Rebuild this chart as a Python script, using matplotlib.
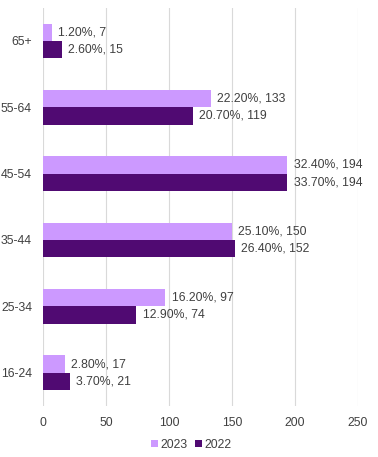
import matplotlib.pyplot as plt
import numpy as np

plt.rcParams['font.family'] = ['Liberation Sans', 'DejaVu Sans']

groups = ['65+', '55-64', '45-54', '35-44', '25-34', '16-24']
counts_2023 = [7, 133, 194, 150, 97, 17]
counts_2022 = [15, 119, 194, 152, 74, 21]
pct_2023 = ['1.20%', '22.20%', '32.40%', '25.10%', '16.20%', '2.80%']
pct_2022 = ['2.60%', '20.70%', '33.70%', '26.40%', '12.90%', '3.70%']

c2023 = '#CC99FF'
c2022 = '#500A72'
txt = '#404040'

fig = plt.figure(figsize=(3.78, 4.57), dpi=100)
ax = fig.add_axes([0.114, 0.112, 0.833, 0.871])

y = np.arange(len(groups))
h = 0.26
b1 = ax.barh(y - h / 2, counts_2023, height=h, color=c2023, label='2023', zorder=2)
b2 = ax.barh(y + h / 2, counts_2022, height=h, color=c2022, label='2022', zorder=2)

for bars, counts, pcts in [(b1, counts_2023, pct_2023), (b2, counts_2022, pct_2022)]:
    for bar, c, p in zip(bars, counts, pcts):
        ax.annotate(f'{p}, {c}', (c, bar.get_y() + bar.get_height() / 2),
                    xytext=(4.5, 0), textcoords='offset points',
                    va='center', ha='left', fontsize=8.8, color=txt)

ax.set_xlim(0, 250)
ax.set_ylim(len(groups) - 0.5, -0.5)
ax.set_xticks([0, 50, 100, 150, 200, 250])
ax.set_yticks(y)
ax.set_yticklabels(groups)
ax.tick_params(length=0, labelsize=8.8, labelcolor=txt)
ax.tick_params(axis='y', pad=8)
ax.tick_params(axis='x', pad=8)
ax.grid(axis='x', color='#d9d9d9', linewidth=0.8, zorder=0)
for s in ax.spines.values():
    s.set_visible(False)

ax.legend(loc='upper center', bbox_to_anchor=(0.47, -0.055), ncol=2, frameon=False,
          fontsize=8.8, handlelength=0.6, handleheight=0.6, handletextpad=0.2,
          columnspacing=0.6, labelcolor=txt)

fig.savefig('out.png', dpi=100)
